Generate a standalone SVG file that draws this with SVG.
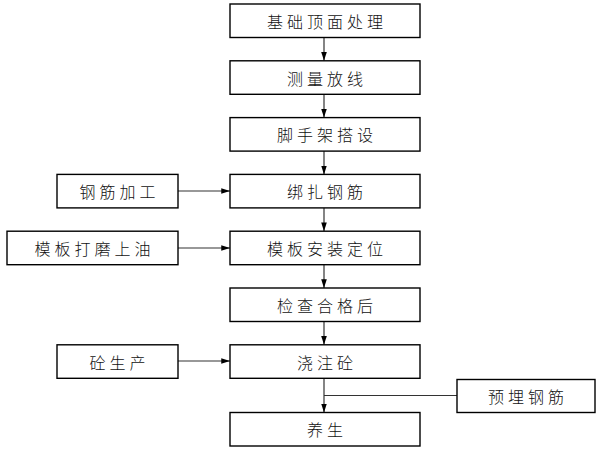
<svg xmlns="http://www.w3.org/2000/svg" width="600" height="450" viewBox="0 0 600 450">
<defs>
<style>
.box rect{fill:#fff;stroke:#000;stroke-width:1.4}
.box text{font-family:"Noto Sans CJK SC","Noto Sans CJK TC",sans-serif;font-size:16px;font-weight:300;letter-spacing:4px;text-anchor:middle;dominant-baseline:central;fill:#111}
.conn line,.conn path{stroke:#333;stroke-width:1.2;fill:none}
</style>
<marker id="ah" viewBox="0 0 10 8" refX="10" refY="4" markerWidth="9" markerHeight="7" markerUnits="userSpaceOnUse" orient="auto">
<path d="M0,0.8 L10,4 L0,7.2 Z" fill="#000"/>
</marker>
</defs>
<rect width="600" height="450" fill="#fff"/>
<g class="conn">
<line x1="324" y1="37.5" x2="324" y2="60.8" marker-end="url(#ah)"/>
<line x1="324" y1="94.3" x2="324" y2="117.6" marker-end="url(#ah)"/>
<line x1="324" y1="151.1" x2="324" y2="174.4" marker-end="url(#ah)"/>
<line x1="324" y1="207.9" x2="324" y2="231.2" marker-end="url(#ah)"/>
<line x1="324" y1="264.7" x2="324" y2="288" marker-end="url(#ah)"/>
<line x1="324" y1="321.5" x2="324" y2="344.8" marker-end="url(#ah)"/>
<line x1="324" y1="378.3" x2="324" y2="412.5" marker-end="url(#ah)"/>
<line x1="457" y1="395.5" x2="324" y2="395.5"/>
<line x1="178" y1="191" x2="230" y2="191" marker-end="url(#ah)"/>
<line x1="178" y1="248" x2="230" y2="248" marker-end="url(#ah)"/>
<line x1="178" y1="361" x2="230" y2="361" marker-end="url(#ah)"/>
</g>
<g id="n1" class="box"><rect x="230" y="4" width="190" height="33.5"/><text x="327" y="20.8">基础顶面处理</text></g>
<g id="n2" class="box"><rect x="230" y="60.8" width="190" height="33.5"/><text x="327" y="77.6">测量放线</text></g>
<g id="n3" class="box"><rect x="230" y="117.6" width="190" height="33.5"/><text x="327" y="134.4">脚手架搭设</text></g>
<g id="n4" class="box"><rect x="230" y="174.4" width="190" height="33.5"/><text x="327" y="191.2">绑扎钢筋</text></g>
<g id="n5" class="box"><rect x="230" y="231.2" width="190" height="33.5"/><text x="327" y="248">模板安装定位</text></g>
<g id="n6" class="box"><rect x="230" y="288" width="190" height="33.5"/><text x="327" y="304.8">检查合格后</text></g>
<g id="n7" class="box"><rect x="230" y="344.8" width="190" height="33.5"/><text x="327" y="361.6">浇注砼</text></g>
<g id="n8" class="box"><rect x="230" y="412.5" width="190" height="33.5"/><text x="327" y="429.2">养生</text></g>
<g id="s1" class="box"><rect x="57" y="174.4" width="121" height="33.5"/><text x="119.5" y="191.2">钢筋加工</text></g>
<g id="s2" class="box"><rect x="7" y="231.2" width="171" height="33.5"/><text x="94.5" y="248">模板打磨上油</text></g>
<g id="s3" class="box"><rect x="57" y="344.8" width="121" height="33.5"/><text x="119.5" y="361.6">砼生产</text></g>
<g id="s4" class="box"><rect x="457" y="379.5" width="138" height="33"/><text x="528" y="396">预埋钢筋</text></g>
</svg>
